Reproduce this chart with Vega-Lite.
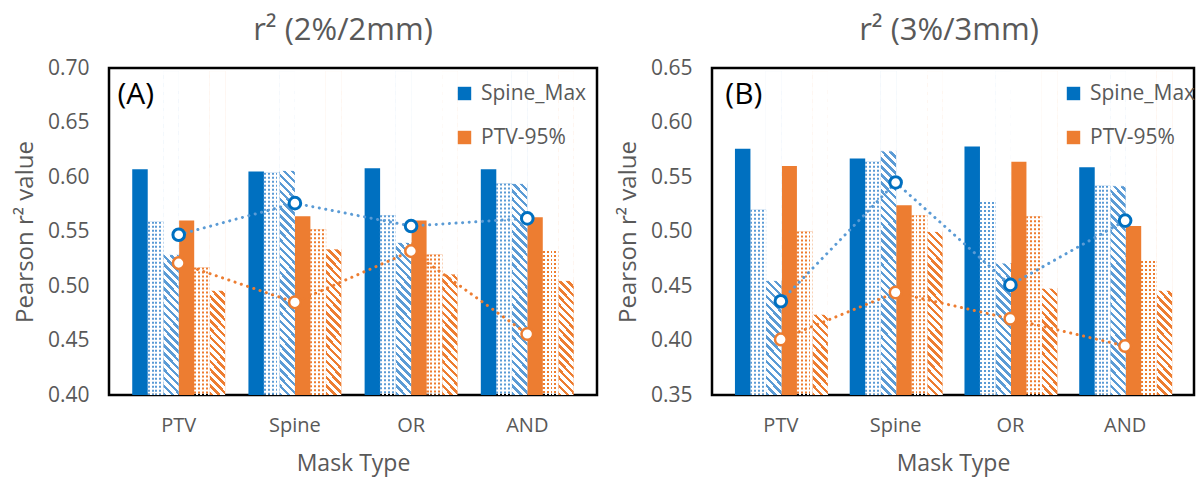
{
  "$schema": "https://vega.github.io/schema/vega-lite/v6.json",
  "background": "white",
  "padding": {"left": 12, "top": 13, "right": 0, "bottom": 0},
  "datasets": {
    "bars": [
      {"p": "A", "mask": "PTV", "metric": "Spine_Max", "style": "solid", "bar": "Spine_Max solid", "value": 0.607},
      {"p": "A", "mask": "PTV", "metric": "Spine_Max", "style": "dots", "bar": "Spine_Max dots", "value": 0.559},
      {"p": "A", "mask": "PTV", "metric": "Spine_Max", "style": "hatch", "bar": "Spine_Max hatch", "value": 0.529},
      {"p": "A", "mask": "PTV", "metric": "PTV-95%", "style": "solid", "bar": "PTV-95% solid", "value": 0.560},
      {"p": "A", "mask": "PTV", "metric": "PTV-95%", "style": "dots", "bar": "PTV-95% dots", "value": 0.517},
      {"p": "A", "mask": "PTV", "metric": "PTV-95%", "style": "hatch", "bar": "PTV-95% hatch", "value": 0.496},
      {"p": "A", "mask": "Spine", "metric": "Spine_Max", "style": "solid", "bar": "Spine_Max solid", "value": 0.605},
      {"p": "A", "mask": "Spine", "metric": "Spine_Max", "style": "dots", "bar": "Spine_Max dots", "value": 0.604},
      {"p": "A", "mask": "Spine", "metric": "Spine_Max", "style": "hatch", "bar": "Spine_Max hatch", "value": 0.606},
      {"p": "A", "mask": "Spine", "metric": "PTV-95%", "style": "solid", "bar": "PTV-95% solid", "value": 0.564},
      {"p": "A", "mask": "Spine", "metric": "PTV-95%", "style": "dots", "bar": "PTV-95% dots", "value": 0.552},
      {"p": "A", "mask": "Spine", "metric": "PTV-95%", "style": "hatch", "bar": "PTV-95% hatch", "value": 0.534},
      {"p": "A", "mask": "OR", "metric": "Spine_Max", "style": "solid", "bar": "Spine_Max solid", "value": 0.608},
      {"p": "A", "mask": "OR", "metric": "Spine_Max", "style": "dots", "bar": "Spine_Max dots", "value": 0.565},
      {"p": "A", "mask": "OR", "metric": "Spine_Max", "style": "hatch", "bar": "Spine_Max hatch", "value": 0.540},
      {"p": "A", "mask": "OR", "metric": "PTV-95%", "style": "solid", "bar": "PTV-95% solid", "value": 0.560},
      {"p": "A", "mask": "OR", "metric": "PTV-95%", "style": "dots", "bar": "PTV-95% dots", "value": 0.529},
      {"p": "A", "mask": "OR", "metric": "PTV-95%", "style": "hatch", "bar": "PTV-95% hatch", "value": 0.511},
      {"p": "A", "mask": "AND", "metric": "Spine_Max", "style": "solid", "bar": "Spine_Max solid", "value": 0.607},
      {"p": "A", "mask": "AND", "metric": "Spine_Max", "style": "dots", "bar": "Spine_Max dots", "value": 0.594},
      {"p": "A", "mask": "AND", "metric": "Spine_Max", "style": "hatch", "bar": "Spine_Max hatch", "value": 0.594},
      {"p": "A", "mask": "AND", "metric": "PTV-95%", "style": "solid", "bar": "PTV-95% solid", "value": 0.563},
      {"p": "A", "mask": "AND", "metric": "PTV-95%", "style": "dots", "bar": "PTV-95% dots", "value": 0.532},
      {"p": "A", "mask": "AND", "metric": "PTV-95%", "style": "hatch", "bar": "PTV-95% hatch", "value": 0.505},
      {"p": "B", "mask": "PTV", "metric": "Spine_Max", "style": "solid", "bar": "Spine_Max solid", "value": 0.576},
      {"p": "B", "mask": "PTV", "metric": "Spine_Max", "style": "dots", "bar": "Spine_Max dots", "value": 0.520},
      {"p": "B", "mask": "PTV", "metric": "Spine_Max", "style": "hatch", "bar": "Spine_Max hatch", "value": 0.455},
      {"p": "B", "mask": "PTV", "metric": "PTV-95%", "style": "solid", "bar": "PTV-95% solid", "value": 0.560},
      {"p": "B", "mask": "PTV", "metric": "PTV-95%", "style": "dots", "bar": "PTV-95% dots", "value": 0.500},
      {"p": "B", "mask": "PTV", "metric": "PTV-95%", "style": "hatch", "bar": "PTV-95% hatch", "value": 0.424},
      {"p": "B", "mask": "Spine", "metric": "Spine_Max", "style": "solid", "bar": "Spine_Max solid", "value": 0.567},
      {"p": "B", "mask": "Spine", "metric": "Spine_Max", "style": "dots", "bar": "Spine_Max dots", "value": 0.564},
      {"p": "B", "mask": "Spine", "metric": "Spine_Max", "style": "hatch", "bar": "Spine_Max hatch", "value": 0.574},
      {"p": "B", "mask": "Spine", "metric": "PTV-95%", "style": "solid", "bar": "PTV-95% solid", "value": 0.524},
      {"p": "B", "mask": "Spine", "metric": "PTV-95%", "style": "dots", "bar": "PTV-95% dots", "value": 0.515},
      {"p": "B", "mask": "Spine", "metric": "PTV-95%", "style": "hatch", "bar": "PTV-95% hatch", "value": 0.500},
      {"p": "B", "mask": "OR", "metric": "Spine_Max", "style": "solid", "bar": "Spine_Max solid", "value": 0.578},
      {"p": "B", "mask": "OR", "metric": "Spine_Max", "style": "dots", "bar": "Spine_Max dots", "value": 0.527},
      {"p": "B", "mask": "OR", "metric": "Spine_Max", "style": "hatch", "bar": "Spine_Max hatch", "value": 0.471},
      {"p": "B", "mask": "OR", "metric": "PTV-95%", "style": "solid", "bar": "PTV-95% solid", "value": 0.564},
      {"p": "B", "mask": "OR", "metric": "PTV-95%", "style": "dots", "bar": "PTV-95% dots", "value": 0.514},
      {"p": "B", "mask": "OR", "metric": "PTV-95%", "style": "hatch", "bar": "PTV-95% hatch", "value": 0.448},
      {"p": "B", "mask": "AND", "metric": "Spine_Max", "style": "solid", "bar": "Spine_Max solid", "value": 0.559},
      {"p": "B", "mask": "AND", "metric": "Spine_Max", "style": "dots", "bar": "Spine_Max dots", "value": 0.542},
      {"p": "B", "mask": "AND", "metric": "Spine_Max", "style": "hatch", "bar": "Spine_Max hatch", "value": 0.542},
      {"p": "B", "mask": "AND", "metric": "PTV-95%", "style": "solid", "bar": "PTV-95% solid", "value": 0.505},
      {"p": "B", "mask": "AND", "metric": "PTV-95%", "style": "dots", "bar": "PTV-95% dots", "value": 0.473},
      {"p": "B", "mask": "AND", "metric": "PTV-95%", "style": "hatch", "bar": "PTV-95% hatch", "value": 0.446}
    ],
    "markers": [
      {"p": "A", "mask": "PTV", "metric": "Spine_Max", "value": 0.547},
      {"p": "A", "mask": "Spine", "metric": "Spine_Max", "value": 0.576},
      {"p": "A", "mask": "OR", "metric": "Spine_Max", "value": 0.555},
      {"p": "A", "mask": "AND", "metric": "Spine_Max", "value": 0.562},
      {"p": "A", "mask": "PTV", "metric": "PTV-95%", "value": 0.521},
      {"p": "A", "mask": "Spine", "metric": "PTV-95%", "value": 0.485},
      {"p": "A", "mask": "OR", "metric": "PTV-95%", "value": 0.532},
      {"p": "A", "mask": "AND", "metric": "PTV-95%", "value": 0.456},
      {"p": "B", "mask": "PTV", "metric": "Spine_Max", "value": 0.436},
      {"p": "B", "mask": "Spine", "metric": "Spine_Max", "value": 0.545},
      {"p": "B", "mask": "OR", "metric": "Spine_Max", "value": 0.451},
      {"p": "B", "mask": "AND", "metric": "Spine_Max", "value": 0.510},
      {"p": "B", "mask": "PTV", "metric": "PTV-95%", "value": 0.401},
      {"p": "B", "mask": "Spine", "metric": "PTV-95%", "value": 0.444},
      {"p": "B", "mask": "OR", "metric": "PTV-95%", "value": 0.420},
      {"p": "B", "mask": "AND", "metric": "PTV-95%", "value": 0.395}
    ]
  },
  "hconcat": [
    {
      "title": {"text": "r² (2%/2mm)", "dx": -10},
      "width": 488,
      "height": 327,
      "layer": [
        {
          "data": {"name": "bars"},
          "transform": [{"filter": "datum.p === 'A' && datum.style === 'solid'"}],
          "mark": {"type": "bar"},
          "encoding": {
            "x": {"field": "mask", "type": "nominal", "sort": ["PTV", "Spine", "OR", "AND"], "title": "Mask Type"},
            "xOffset": {"field": "bar", "type": "nominal", "scale": {"domain": ["Spine_Max solid", "Spine_Max dots", "Spine_Max hatch", "PTV-95% solid", "PTV-95% dots", "PTV-95% hatch"], "paddingInner": 0, "paddingOuter": 0}},
            "y": {"field": "value", "type": "quantitative", "scale": {"domain": [0.4, 0.7], "zero": false, "nice": false}, "title": "Pearson r² value", "axis": {"values": [0.4, 0.45, 0.5, 0.55, 0.6, 0.65, 0.7], "format": ".2f"}},
            "y2": {"datum": 0.4},
            "fill": {"field": "metric", "type": "nominal", "scale": {"domain": ["Spine_Max", "PTV-95%"], "range": ["#0070C0", "#ED7D31"]},
              "legend": {"orient": "none", "legendX": 345, "legendY": 15, "title": null, "symbolType": "square", "symbolSize": 180, "symbolStrokeWidth": 0, "labelFontSize": 21, "labelColor": "#595959", "labelFont": "Open Sans", "rowPadding": 22, "labelOffset": 6, "padding": 0}}
          }
        },
        {
          "data": {"name": "bars"},
          "transform": [{"filter": "datum.p === 'A' && datum.style === 'hatch'"}],
          "mark": {"type": "bar"},
          "encoding": {
            "x": {"field": "mask", "type": "nominal", "sort": ["PTV", "Spine", "OR", "AND"], "title": "Mask Type"},
            "xOffset": {"field": "bar", "type": "nominal", "scale": {"domain": ["Spine_Max solid", "Spine_Max dots", "Spine_Max hatch", "PTV-95% solid", "PTV-95% dots", "PTV-95% hatch"], "paddingInner": 0, "paddingOuter": 0}},
            "y": {"datum": 0.697, "type": "quantitative", "scale": {"domain": [0.4, 0.7], "zero": false, "nice": false}},
            "y2": {"datum": 0.4},
            "fill": {"condition": {"test": "datum.metric === 'Spine_Max'", "value": "#5B9BD5"}, "value": "#ED7D31"}
          }
        },
        {
          "data": {"name": "bars"},
          "transform": [{"filter": "datum.p === 'A' && datum.style === 'hatch'"}],
          "mark": {"type": "bar", "fill": {
            "gradient": "linear", "x1": 0, "y1": 1, "x2": 0.0496, "y2": 0,
            "stops": [
              {"offset": 0, "color": "transparent"}, {"offset": 0.011, "color": "transparent"}, {"offset": 0.011, "color": "white"}, {"offset": 0.025, "color": "white"},
              {"offset": 0.025, "color": "transparent"}, {"offset": 0.036, "color": "transparent"}, {"offset": 0.036, "color": "white"}, {"offset": 0.05, "color": "white"},
              {"offset": 0.05, "color": "transparent"}, {"offset": 0.061, "color": "transparent"}, {"offset": 0.061, "color": "white"}, {"offset": 0.075, "color": "white"},
              {"offset": 0.075, "color": "transparent"}, {"offset": 0.086, "color": "transparent"}, {"offset": 0.086, "color": "white"}, {"offset": 0.1, "color": "white"},
              {"offset": 0.1, "color": "transparent"}, {"offset": 0.111, "color": "transparent"}, {"offset": 0.111, "color": "white"}, {"offset": 0.125, "color": "white"},
              {"offset": 0.125, "color": "transparent"}, {"offset": 0.136, "color": "transparent"}, {"offset": 0.136, "color": "white"}, {"offset": 0.15, "color": "white"},
              {"offset": 0.15, "color": "transparent"}, {"offset": 0.161, "color": "transparent"}, {"offset": 0.161, "color": "white"}, {"offset": 0.175, "color": "white"},
              {"offset": 0.175, "color": "transparent"}, {"offset": 0.186, "color": "transparent"}, {"offset": 0.186, "color": "white"}, {"offset": 0.2, "color": "white"},
              {"offset": 0.2, "color": "transparent"}, {"offset": 0.211, "color": "transparent"}, {"offset": 0.211, "color": "white"}, {"offset": 0.225, "color": "white"},
              {"offset": 0.225, "color": "transparent"}, {"offset": 0.236, "color": "transparent"}, {"offset": 0.236, "color": "white"}, {"offset": 0.25, "color": "white"},
              {"offset": 0.25, "color": "transparent"}, {"offset": 0.261, "color": "transparent"}, {"offset": 0.261, "color": "white"}, {"offset": 0.275, "color": "white"},
              {"offset": 0.275, "color": "transparent"}, {"offset": 0.286, "color": "transparent"}, {"offset": 0.286, "color": "white"}, {"offset": 0.3, "color": "white"},
              {"offset": 0.3, "color": "transparent"}, {"offset": 0.311, "color": "transparent"}, {"offset": 0.311, "color": "white"}, {"offset": 0.325, "color": "white"},
              {"offset": 0.325, "color": "transparent"}, {"offset": 0.336, "color": "transparent"}, {"offset": 0.336, "color": "white"}, {"offset": 0.35, "color": "white"},
              {"offset": 0.35, "color": "transparent"}, {"offset": 0.361, "color": "transparent"}, {"offset": 0.361, "color": "white"}, {"offset": 0.375, "color": "white"},
              {"offset": 0.375, "color": "transparent"}, {"offset": 0.386, "color": "transparent"}, {"offset": 0.386, "color": "white"}, {"offset": 0.4, "color": "white"},
              {"offset": 0.4, "color": "transparent"}, {"offset": 0.411, "color": "transparent"}, {"offset": 0.411, "color": "white"}, {"offset": 0.425, "color": "white"},
              {"offset": 0.425, "color": "transparent"}, {"offset": 0.436, "color": "transparent"}, {"offset": 0.436, "color": "white"}, {"offset": 0.45, "color": "white"},
              {"offset": 0.45, "color": "transparent"}, {"offset": 0.461, "color": "transparent"}, {"offset": 0.461, "color": "white"}, {"offset": 0.475, "color": "white"},
              {"offset": 0.475, "color": "transparent"}, {"offset": 0.486, "color": "transparent"}, {"offset": 0.486, "color": "white"}, {"offset": 0.5, "color": "white"},
              {"offset": 0.5, "color": "transparent"}, {"offset": 0.511, "color": "transparent"}, {"offset": 0.511, "color": "white"}, {"offset": 0.525, "color": "white"},
              {"offset": 0.525, "color": "transparent"}, {"offset": 0.536, "color": "transparent"}, {"offset": 0.536, "color": "white"}, {"offset": 0.55, "color": "white"},
              {"offset": 0.55, "color": "transparent"}, {"offset": 0.561, "color": "transparent"}, {"offset": 0.561, "color": "white"}, {"offset": 0.575, "color": "white"},
              {"offset": 0.575, "color": "transparent"}, {"offset": 0.586, "color": "transparent"}, {"offset": 0.586, "color": "white"}, {"offset": 0.6, "color": "white"},
              {"offset": 0.6, "color": "transparent"}, {"offset": 0.611, "color": "transparent"}, {"offset": 0.611, "color": "white"}, {"offset": 0.625, "color": "white"},
              {"offset": 0.625, "color": "transparent"}, {"offset": 0.636, "color": "transparent"}, {"offset": 0.636, "color": "white"}, {"offset": 0.65, "color": "white"},
              {"offset": 0.65, "color": "transparent"}, {"offset": 0.661, "color": "transparent"}, {"offset": 0.661, "color": "white"}, {"offset": 0.675, "color": "white"},
              {"offset": 0.675, "color": "transparent"}, {"offset": 0.686, "color": "transparent"}, {"offset": 0.686, "color": "white"}, {"offset": 0.7, "color": "white"},
              {"offset": 0.7, "color": "transparent"}, {"offset": 0.711, "color": "transparent"}, {"offset": 0.711, "color": "white"}, {"offset": 0.725, "color": "white"},
              {"offset": 0.725, "color": "transparent"}, {"offset": 0.736, "color": "transparent"}, {"offset": 0.736, "color": "white"}, {"offset": 0.75, "color": "white"},
              {"offset": 0.75, "color": "transparent"}, {"offset": 0.761, "color": "transparent"}, {"offset": 0.761, "color": "white"}, {"offset": 0.775, "color": "white"},
              {"offset": 0.775, "color": "transparent"}, {"offset": 0.786, "color": "transparent"}, {"offset": 0.786, "color": "white"}, {"offset": 0.8, "color": "white"},
              {"offset": 0.8, "color": "transparent"}, {"offset": 0.811, "color": "transparent"}, {"offset": 0.811, "color": "white"}, {"offset": 0.825, "color": "white"},
              {"offset": 0.825, "color": "transparent"}, {"offset": 0.836, "color": "transparent"}, {"offset": 0.836, "color": "white"}, {"offset": 0.85, "color": "white"},
              {"offset": 0.85, "color": "transparent"}, {"offset": 0.861, "color": "transparent"}, {"offset": 0.861, "color": "white"}, {"offset": 0.875, "color": "white"},
              {"offset": 0.875, "color": "transparent"}, {"offset": 0.886, "color": "transparent"}, {"offset": 0.886, "color": "white"}, {"offset": 0.9, "color": "white"},
              {"offset": 0.9, "color": "transparent"}, {"offset": 0.911, "color": "transparent"}, {"offset": 0.911, "color": "white"}, {"offset": 0.925, "color": "white"},
              {"offset": 0.925, "color": "transparent"}, {"offset": 0.936, "color": "transparent"}, {"offset": 0.936, "color": "white"}, {"offset": 0.95, "color": "white"},
              {"offset": 0.95, "color": "transparent"}, {"offset": 0.961, "color": "transparent"}, {"offset": 0.961, "color": "white"}, {"offset": 0.975, "color": "white"},
              {"offset": 0.975, "color": "transparent"}, {"offset": 0.986, "color": "transparent"}, {"offset": 0.986, "color": "white"}, {"offset": 1, "color": "white"}
            ]}},
          "encoding": {
            "x": {"field": "mask", "type": "nominal", "sort": ["PTV", "Spine", "OR", "AND"], "title": "Mask Type"},
            "xOffset": {"field": "bar", "type": "nominal", "scale": {"domain": ["Spine_Max solid", "Spine_Max dots", "Spine_Max hatch", "PTV-95% solid", "PTV-95% dots", "PTV-95% hatch"], "paddingInner": 0, "paddingOuter": 0}},
            "y": {"datum": 0.697, "type": "quantitative", "scale": {"domain": [0.4, 0.7], "zero": false, "nice": false}},
            "y2": {"datum": 0.4}
          }
        },
        {
          "data": {"name": "bars"},
          "transform": [{"filter": "datum.p === 'A' && datum.style === 'hatch'"}],
          "mark": {"type": "bar", "fill": "white", "stroke": "white", "strokeWidth": 0.8},
          "encoding": {
            "x": {"field": "mask", "type": "nominal", "sort": ["PTV", "Spine", "OR", "AND"], "title": "Mask Type"},
            "xOffset": {"field": "bar", "type": "nominal", "scale": {"domain": ["Spine_Max solid", "Spine_Max dots", "Spine_Max hatch", "PTV-95% solid", "PTV-95% dots", "PTV-95% hatch"], "paddingInner": 0, "paddingOuter": 0}},
            "y": {"field": "value", "type": "quantitative", "scale": {"domain": [0.4, 0.7], "zero": false, "nice": false}, "title": "Pearson r² value"},
            "y2": {"datum": 0.697}
          }
        },
        {
          "data": {"name": "bars"},
          "transform": [{"filter": "datum.p === 'A' && datum.style === 'dots'"}],
          "mark": {"type": "rule", "strokeWidth": 16.06, "strokeDash": [2, 2], "strokeCap": "butt"},
          "encoding": {
            "x": {"field": "mask", "type": "nominal", "sort": ["PTV", "Spine", "OR", "AND"], "title": "Mask Type"},
            "xOffset": {"field": "bar", "type": "nominal", "scale": {"domain": ["Spine_Max solid", "Spine_Max dots", "Spine_Max hatch", "PTV-95% solid", "PTV-95% dots", "PTV-95% hatch"], "paddingInner": 0, "paddingOuter": 0}},
            "y": {"field": "value", "type": "quantitative", "scale": {"domain": [0.4, 0.7], "zero": false, "nice": false}, "title": "Pearson r² value"},
            "y2": {"datum": 0.4},
            "stroke": {"condition": {"test": "datum.metric === 'Spine_Max'", "value": "#5B9BD5"}, "value": "#ED7D31"}
          }
        },
        {
          "data": {"name": "bars"},
          "transform": [{"filter": "datum.p === 'A' && datum.style === 'dots'"}],
          "mark": {"type": "bar", "fill": {
            "gradient": "linear", "x1": 0, "y1": 0, "x2": 1, "y2": 0,
            "stops": [
              {"offset": 0, "color": "transparent"}, {"offset": 0.125, "color": "transparent"}, {"offset": 0.125, "color": "white"}, {"offset": 0.25, "color": "white"},
              {"offset": 0.25, "color": "transparent"}, {"offset": 0.375, "color": "transparent"}, {"offset": 0.375, "color": "white"}, {"offset": 0.5, "color": "white"},
              {"offset": 0.5, "color": "transparent"}, {"offset": 0.625, "color": "transparent"}, {"offset": 0.625, "color": "white"}, {"offset": 0.75, "color": "white"},
              {"offset": 0.75, "color": "transparent"}, {"offset": 0.875, "color": "transparent"}, {"offset": 0.875, "color": "white"}, {"offset": 1, "color": "white"}
            ]}},
          "encoding": {
            "x": {"field": "mask", "type": "nominal", "sort": ["PTV", "Spine", "OR", "AND"], "title": "Mask Type"},
            "xOffset": {"field": "bar", "type": "nominal", "scale": {"domain": ["Spine_Max solid", "Spine_Max dots", "Spine_Max hatch", "PTV-95% solid", "PTV-95% dots", "PTV-95% hatch"], "paddingInner": 0, "paddingOuter": 0}},
            "y": {"field": "value", "type": "quantitative", "scale": {"domain": [0.4, 0.7], "zero": false, "nice": false}, "title": "Pearson r² value"},
            "y2": {"datum": 0.4}
          }
        },
        {
          "data": {"name": "markers"},
          "transform": [{"filter": "datum.p === 'A'"}],
          "mark": {"type": "line", "strokeWidth": 3, "strokeDash": [0.1, 6.5], "strokeCap": "round"},
          "encoding": {
            "x": {"field": "mask", "type": "nominal", "sort": ["PTV", "Spine", "OR", "AND"], "title": "Mask Type"},
            "y": {"field": "value", "type": "quantitative", "scale": {"domain": [0.4, 0.7], "zero": false, "nice": false}, "title": "Pearson r² value"},
            "detail": {"field": "metric"},
            "stroke": {"condition": {"test": "datum.metric === 'Spine_Max'", "value": "#5B9BD5"}, "value": "#ED7D31"}
          }
        },
        {
          "data": {"name": "markers"},
          "transform": [{"filter": "datum.p === 'A'"}],
          "mark": {"type": "point", "shape": "circle", "filled": true, "fill": "white", "size": 135, "opacity": 1},
          "encoding": {
            "x": {"field": "mask", "type": "nominal", "sort": ["PTV", "Spine", "OR", "AND"], "title": "Mask Type"},
            "y": {"field": "value", "type": "quantitative", "scale": {"domain": [0.4, 0.7], "zero": false, "nice": false}, "title": "Pearson r² value"},
            "stroke": {"condition": {"test": "datum.metric === 'Spine_Max'", "value": "#0070C0"}, "value": "#ED7D31"},
            "strokeWidth": {"condition": {"test": "datum.metric === 'Spine_Max'", "value": 3}, "value": 2.5}
          }
        },
        {
          "data": {"name": "markers"},
          "transform": [{"filter": "datum.p === 'A' && datum.mask === 'PTV' && datum.metric === 'Spine_Max'"}],
          "mark": {"type": "text", "text": "(A)", "fontSize": 30, "fill": "black", "dx": -43, "align": "center", "baseline": "middle"},
          "encoding": {
            "x": {"field": "mask", "type": "nominal", "sort": ["PTV", "Spine", "OR", "AND"], "title": "Mask Type"},
            "y": {"datum": 0.675, "type": "quantitative", "scale": {"domain": [0.4, 0.7], "zero": false, "nice": false}}
          }
        }
      ]
    },
    {
      "title": {"text": "r² (3%/3mm)", "dx": -4},
      "width": 482,
      "height": 327,
      "layer": [
        {
          "data": {"name": "bars"},
          "transform": [{"filter": "datum.p === 'B' && datum.style === 'solid'"}],
          "mark": {"type": "bar"},
          "encoding": {
            "x": {"field": "mask", "type": "nominal", "sort": ["PTV", "Spine", "OR", "AND"], "title": "Mask Type"},
            "xOffset": {"field": "bar", "type": "nominal", "scale": {"domain": ["Spine_Max solid", "Spine_Max dots", "Spine_Max hatch", "PTV-95% solid", "PTV-95% dots", "PTV-95% hatch"], "paddingInner": 0, "paddingOuter": 0}},
            "y": {"field": "value", "type": "quantitative", "scale": {"domain": [0.35, 0.65], "zero": false, "nice": false}, "title": "Pearson r² value", "axis": {"values": [0.35, 0.4, 0.45, 0.5, 0.55, 0.6, 0.65], "format": ".2f"}},
            "y2": {"datum": 0.35},
            "fill": {"field": "metric", "type": "nominal", "scale": {"domain": ["Spine_Max", "PTV-95%"], "range": ["#0070C0", "#ED7D31"]},
              "legend": {"orient": "none", "legendX": 351, "legendY": 15, "title": null, "symbolType": "square", "symbolSize": 180, "symbolStrokeWidth": 0, "labelFontSize": 21, "labelColor": "#595959", "labelFont": "Open Sans", "rowPadding": 22, "labelOffset": 6, "padding": 0}}
          }
        },
        {
          "data": {"name": "bars"},
          "transform": [{"filter": "datum.p === 'B' && datum.style === 'hatch'"}],
          "mark": {"type": "bar"},
          "encoding": {
            "x": {"field": "mask", "type": "nominal", "sort": ["PTV", "Spine", "OR", "AND"], "title": "Mask Type"},
            "xOffset": {"field": "bar", "type": "nominal", "scale": {"domain": ["Spine_Max solid", "Spine_Max dots", "Spine_Max hatch", "PTV-95% solid", "PTV-95% dots", "PTV-95% hatch"], "paddingInner": 0, "paddingOuter": 0}},
            "y": {"datum": 0.647, "type": "quantitative", "scale": {"domain": [0.35, 0.65], "zero": false, "nice": false}},
            "y2": {"datum": 0.35},
            "fill": {"condition": {"test": "datum.metric === 'Spine_Max'", "value": "#5B9BD5"}, "value": "#ED7D31"}
          }
        },
        {
          "data": {"name": "bars"},
          "transform": [{"filter": "datum.p === 'B' && datum.style === 'hatch'"}],
          "mark": {"type": "bar", "fill": {
            "gradient": "linear", "x1": 0, "y1": 1, "x2": 0.049, "y2": 0,
            "stops": [
              {"offset": 0, "color": "transparent"}, {"offset": 0.011, "color": "transparent"}, {"offset": 0.011, "color": "white"}, {"offset": 0.025, "color": "white"},
              {"offset": 0.025, "color": "transparent"}, {"offset": 0.036, "color": "transparent"}, {"offset": 0.036, "color": "white"}, {"offset": 0.05, "color": "white"},
              {"offset": 0.05, "color": "transparent"}, {"offset": 0.061, "color": "transparent"}, {"offset": 0.061, "color": "white"}, {"offset": 0.075, "color": "white"},
              {"offset": 0.075, "color": "transparent"}, {"offset": 0.086, "color": "transparent"}, {"offset": 0.086, "color": "white"}, {"offset": 0.1, "color": "white"},
              {"offset": 0.1, "color": "transparent"}, {"offset": 0.111, "color": "transparent"}, {"offset": 0.111, "color": "white"}, {"offset": 0.125, "color": "white"},
              {"offset": 0.125, "color": "transparent"}, {"offset": 0.136, "color": "transparent"}, {"offset": 0.136, "color": "white"}, {"offset": 0.15, "color": "white"},
              {"offset": 0.15, "color": "transparent"}, {"offset": 0.161, "color": "transparent"}, {"offset": 0.161, "color": "white"}, {"offset": 0.175, "color": "white"},
              {"offset": 0.175, "color": "transparent"}, {"offset": 0.186, "color": "transparent"}, {"offset": 0.186, "color": "white"}, {"offset": 0.2, "color": "white"},
              {"offset": 0.2, "color": "transparent"}, {"offset": 0.211, "color": "transparent"}, {"offset": 0.211, "color": "white"}, {"offset": 0.225, "color": "white"},
              {"offset": 0.225, "color": "transparent"}, {"offset": 0.236, "color": "transparent"}, {"offset": 0.236, "color": "white"}, {"offset": 0.25, "color": "white"},
              {"offset": 0.25, "color": "transparent"}, {"offset": 0.261, "color": "transparent"}, {"offset": 0.261, "color": "white"}, {"offset": 0.275, "color": "white"},
              {"offset": 0.275, "color": "transparent"}, {"offset": 0.286, "color": "transparent"}, {"offset": 0.286, "color": "white"}, {"offset": 0.3, "color": "white"},
              {"offset": 0.3, "color": "transparent"}, {"offset": 0.311, "color": "transparent"}, {"offset": 0.311, "color": "white"}, {"offset": 0.325, "color": "white"},
              {"offset": 0.325, "color": "transparent"}, {"offset": 0.336, "color": "transparent"}, {"offset": 0.336, "color": "white"}, {"offset": 0.35, "color": "white"},
              {"offset": 0.35, "color": "transparent"}, {"offset": 0.361, "color": "transparent"}, {"offset": 0.361, "color": "white"}, {"offset": 0.375, "color": "white"},
              {"offset": 0.375, "color": "transparent"}, {"offset": 0.386, "color": "transparent"}, {"offset": 0.386, "color": "white"}, {"offset": 0.4, "color": "white"},
              {"offset": 0.4, "color": "transparent"}, {"offset": 0.411, "color": "transparent"}, {"offset": 0.411, "color": "white"}, {"offset": 0.425, "color": "white"},
              {"offset": 0.425, "color": "transparent"}, {"offset": 0.436, "color": "transparent"}, {"offset": 0.436, "color": "white"}, {"offset": 0.45, "color": "white"},
              {"offset": 0.45, "color": "transparent"}, {"offset": 0.461, "color": "transparent"}, {"offset": 0.461, "color": "white"}, {"offset": 0.475, "color": "white"},
              {"offset": 0.475, "color": "transparent"}, {"offset": 0.486, "color": "transparent"}, {"offset": 0.486, "color": "white"}, {"offset": 0.5, "color": "white"},
              {"offset": 0.5, "color": "transparent"}, {"offset": 0.511, "color": "transparent"}, {"offset": 0.511, "color": "white"}, {"offset": 0.525, "color": "white"},
              {"offset": 0.525, "color": "transparent"}, {"offset": 0.536, "color": "transparent"}, {"offset": 0.536, "color": "white"}, {"offset": 0.55, "color": "white"},
              {"offset": 0.55, "color": "transparent"}, {"offset": 0.561, "color": "transparent"}, {"offset": 0.561, "color": "white"}, {"offset": 0.575, "color": "white"},
              {"offset": 0.575, "color": "transparent"}, {"offset": 0.586, "color": "transparent"}, {"offset": 0.586, "color": "white"}, {"offset": 0.6, "color": "white"},
              {"offset": 0.6, "color": "transparent"}, {"offset": 0.611, "color": "transparent"}, {"offset": 0.611, "color": "white"}, {"offset": 0.625, "color": "white"},
              {"offset": 0.625, "color": "transparent"}, {"offset": 0.636, "color": "transparent"}, {"offset": 0.636, "color": "white"}, {"offset": 0.65, "color": "white"},
              {"offset": 0.65, "color": "transparent"}, {"offset": 0.661, "color": "transparent"}, {"offset": 0.661, "color": "white"}, {"offset": 0.675, "color": "white"},
              {"offset": 0.675, "color": "transparent"}, {"offset": 0.686, "color": "transparent"}, {"offset": 0.686, "color": "white"}, {"offset": 0.7, "color": "white"},
              {"offset": 0.7, "color": "transparent"}, {"offset": 0.711, "color": "transparent"}, {"offset": 0.711, "color": "white"}, {"offset": 0.725, "color": "white"},
              {"offset": 0.725, "color": "transparent"}, {"offset": 0.736, "color": "transparent"}, {"offset": 0.736, "color": "white"}, {"offset": 0.75, "color": "white"},
              {"offset": 0.75, "color": "transparent"}, {"offset": 0.761, "color": "transparent"}, {"offset": 0.761, "color": "white"}, {"offset": 0.775, "color": "white"},
              {"offset": 0.775, "color": "transparent"}, {"offset": 0.786, "color": "transparent"}, {"offset": 0.786, "color": "white"}, {"offset": 0.8, "color": "white"},
              {"offset": 0.8, "color": "transparent"}, {"offset": 0.811, "color": "transparent"}, {"offset": 0.811, "color": "white"}, {"offset": 0.825, "color": "white"},
              {"offset": 0.825, "color": "transparent"}, {"offset": 0.836, "color": "transparent"}, {"offset": 0.836, "color": "white"}, {"offset": 0.85, "color": "white"},
              {"offset": 0.85, "color": "transparent"}, {"offset": 0.861, "color": "transparent"}, {"offset": 0.861, "color": "white"}, {"offset": 0.875, "color": "white"},
              {"offset": 0.875, "color": "transparent"}, {"offset": 0.886, "color": "transparent"}, {"offset": 0.886, "color": "white"}, {"offset": 0.9, "color": "white"},
              {"offset": 0.9, "color": "transparent"}, {"offset": 0.911, "color": "transparent"}, {"offset": 0.911, "color": "white"}, {"offset": 0.925, "color": "white"},
              {"offset": 0.925, "color": "transparent"}, {"offset": 0.936, "color": "transparent"}, {"offset": 0.936, "color": "white"}, {"offset": 0.95, "color": "white"},
              {"offset": 0.95, "color": "transparent"}, {"offset": 0.961, "color": "transparent"}, {"offset": 0.961, "color": "white"}, {"offset": 0.975, "color": "white"},
              {"offset": 0.975, "color": "transparent"}, {"offset": 0.986, "color": "transparent"}, {"offset": 0.986, "color": "white"}, {"offset": 1, "color": "white"}
            ]}},
          "encoding": {
            "x": {"field": "mask", "type": "nominal", "sort": ["PTV", "Spine", "OR", "AND"], "title": "Mask Type"},
            "xOffset": {"field": "bar", "type": "nominal", "scale": {"domain": ["Spine_Max solid", "Spine_Max dots", "Spine_Max hatch", "PTV-95% solid", "PTV-95% dots", "PTV-95% hatch"], "paddingInner": 0, "paddingOuter": 0}},
            "y": {"datum": 0.647, "type": "quantitative", "scale": {"domain": [0.35, 0.65], "zero": false, "nice": false}},
            "y2": {"datum": 0.35}
          }
        },
        {
          "data": {"name": "bars"},
          "transform": [{"filter": "datum.p === 'B' && datum.style === 'hatch'"}],
          "mark": {"type": "bar", "fill": "white", "stroke": "white", "strokeWidth": 0.8},
          "encoding": {
            "x": {"field": "mask", "type": "nominal", "sort": ["PTV", "Spine", "OR", "AND"], "title": "Mask Type"},
            "xOffset": {"field": "bar", "type": "nominal", "scale": {"domain": ["Spine_Max solid", "Spine_Max dots", "Spine_Max hatch", "PTV-95% solid", "PTV-95% dots", "PTV-95% hatch"], "paddingInner": 0, "paddingOuter": 0}},
            "y": {"field": "value", "type": "quantitative", "scale": {"domain": [0.35, 0.65], "zero": false, "nice": false}, "title": "Pearson r² value"},
            "y2": {"datum": 0.647}
          }
        },
        {
          "data": {"name": "bars"},
          "transform": [{"filter": "datum.p === 'B' && datum.style === 'dots'"}],
          "mark": {"type": "rule", "strokeWidth": 15.87, "strokeDash": [2, 2], "strokeCap": "butt"},
          "encoding": {
            "x": {"field": "mask", "type": "nominal", "sort": ["PTV", "Spine", "OR", "AND"], "title": "Mask Type"},
            "xOffset": {"field": "bar", "type": "nominal", "scale": {"domain": ["Spine_Max solid", "Spine_Max dots", "Spine_Max hatch", "PTV-95% solid", "PTV-95% dots", "PTV-95% hatch"], "paddingInner": 0, "paddingOuter": 0}},
            "y": {"field": "value", "type": "quantitative", "scale": {"domain": [0.35, 0.65], "zero": false, "nice": false}, "title": "Pearson r² value"},
            "y2": {"datum": 0.35},
            "stroke": {"condition": {"test": "datum.metric === 'Spine_Max'", "value": "#5B9BD5"}, "value": "#ED7D31"}
          }
        },
        {
          "data": {"name": "bars"},
          "transform": [{"filter": "datum.p === 'B' && datum.style === 'dots'"}],
          "mark": {"type": "bar", "fill": {
            "gradient": "linear", "x1": 0, "y1": 0, "x2": 1, "y2": 0,
            "stops": [
              {"offset": 0, "color": "transparent"}, {"offset": 0.125, "color": "transparent"}, {"offset": 0.125, "color": "white"}, {"offset": 0.25, "color": "white"},
              {"offset": 0.25, "color": "transparent"}, {"offset": 0.375, "color": "transparent"}, {"offset": 0.375, "color": "white"}, {"offset": 0.5, "color": "white"},
              {"offset": 0.5, "color": "transparent"}, {"offset": 0.625, "color": "transparent"}, {"offset": 0.625, "color": "white"}, {"offset": 0.75, "color": "white"},
              {"offset": 0.75, "color": "transparent"}, {"offset": 0.875, "color": "transparent"}, {"offset": 0.875, "color": "white"}, {"offset": 1, "color": "white"}
            ]}},
          "encoding": {
            "x": {"field": "mask", "type": "nominal", "sort": ["PTV", "Spine", "OR", "AND"], "title": "Mask Type"},
            "xOffset": {"field": "bar", "type": "nominal", "scale": {"domain": ["Spine_Max solid", "Spine_Max dots", "Spine_Max hatch", "PTV-95% solid", "PTV-95% dots", "PTV-95% hatch"], "paddingInner": 0, "paddingOuter": 0}},
            "y": {"field": "value", "type": "quantitative", "scale": {"domain": [0.35, 0.65], "zero": false, "nice": false}, "title": "Pearson r² value"},
            "y2": {"datum": 0.35}
          }
        },
        {
          "data": {"name": "markers"},
          "transform": [{"filter": "datum.p === 'B'"}],
          "mark": {"type": "line", "strokeWidth": 3, "strokeDash": [0.1, 6.5], "strokeCap": "round"},
          "encoding": {
            "x": {"field": "mask", "type": "nominal", "sort": ["PTV", "Spine", "OR", "AND"], "title": "Mask Type"},
            "y": {"field": "value", "type": "quantitative", "scale": {"domain": [0.35, 0.65], "zero": false, "nice": false}, "title": "Pearson r² value"},
            "detail": {"field": "metric"},
            "stroke": {"condition": {"test": "datum.metric === 'Spine_Max'", "value": "#5B9BD5"}, "value": "#ED7D31"}
          }
        },
        {
          "data": {"name": "markers"},
          "transform": [{"filter": "datum.p === 'B'"}],
          "mark": {"type": "point", "shape": "circle", "filled": true, "fill": "white", "size": 135, "opacity": 1},
          "encoding": {
            "x": {"field": "mask", "type": "nominal", "sort": ["PTV", "Spine", "OR", "AND"], "title": "Mask Type"},
            "y": {"field": "value", "type": "quantitative", "scale": {"domain": [0.35, 0.65], "zero": false, "nice": false}, "title": "Pearson r² value"},
            "stroke": {"condition": {"test": "datum.metric === 'Spine_Max'", "value": "#0070C0"}, "value": "#ED7D31"},
            "strokeWidth": {"condition": {"test": "datum.metric === 'Spine_Max'", "value": 3}, "value": 2.5}
          }
        },
        {
          "data": {"name": "markers"},
          "transform": [{"filter": "datum.p === 'B' && datum.mask === 'PTV' && datum.metric === 'Spine_Max'"}],
          "mark": {"type": "text", "text": "(B)", "fontSize": 30, "fill": "black", "dx": -37, "align": "center", "baseline": "middle"},
          "encoding": {
            "x": {"field": "mask", "type": "nominal", "sort": ["PTV", "Spine", "OR", "AND"], "title": "Mask Type"},
            "y": {"datum": 0.625, "type": "quantitative", "scale": {"domain": [0.35, 0.65], "zero": false, "nice": false}}
          }
        }
      ]
    }
  ],
  "spacing": 16,
  "resolve": {"scale": {"fill": "independent"}},
  "config": {
    "font": "Open Sans",
    "view": {"stroke": "#000000", "strokeWidth": 2.5},
    "scale": {"bandPaddingInner": 0.21, "bandPaddingOuter": 0.105},
    "axis": {"ticks": false, "grid": false, "domain": false, "labelFont": "Open Sans", "titleFont": "Open Sans", "labelFontSize": 21, "labelColor": "#595959", "titleFontSize": 24, "titleColor": "#595959", "titleFontWeight": "normal"},
    "axisX": {"labelAngle": 0, "labelFontSize": 20, "labelPadding": 20, "titlePadding": 17, "titleFontSize": 23},
    "axisY": {"labelPadding": 20, "titlePadding": 10},
    "title": {"font": "Open Sans", "fontSize": 31, "color": "#595959", "fontWeight": "normal", "offset": 10}
  }
}
